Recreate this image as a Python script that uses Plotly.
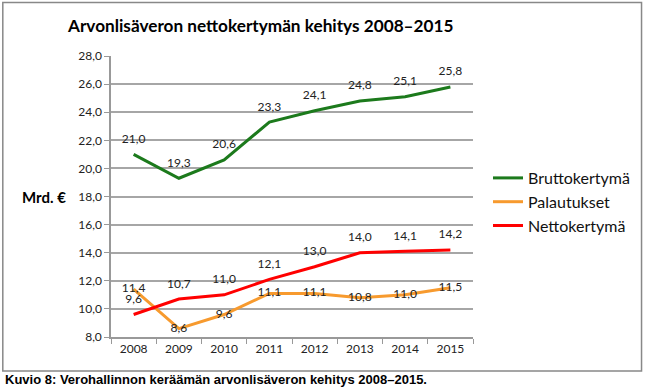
import plotly.graph_objects as go

years = ["2008", "2009", "2010", "2011", "2012", "2013", "2014", "2015"]
brutto = [21.0, 19.3, 20.6, 23.3, 24.1, 24.8, 25.1, 25.8]
palautukset = [11.4, 8.6, 9.6, 11.1, 11.1, 10.8, 11.0, 11.5]
netto = [9.6, 10.7, 11.0, 12.1, 13.0, 14.0, 14.1, 14.2]
y_ticks = [8, 10, 12, 14, 16, 18, 20, 22, 24, 26, 28]

FONT = "Lato"
W, H = 646, 389
L, R, T, B = 111, 474, 56, 337

def px(x):
    return (x - L) / (R - L)

def py(y):
    return (B - y) / (B - T)

fig = go.Figure()
series = [
    ("Bruttokertymä", brutto, "#1c7a1c", "top center", 12),
    ("Palautukset", palautukset, "#f79a2e", "middle center", 1),
    ("Nettokertymä", netto, "#ff0000", "top center", 12),
]
for name, vals, col, pos, msize in series:
    fig.add_trace(go.Scatter(
        x=years, y=vals, name=name, mode="lines+markers+text",
        line=dict(color=col, width=3),
        marker=dict(size=msize, color="rgba(0,0,0,0)"),
        texttemplate="%{y:.1f}", textposition=pos,
        textfont=dict(family=FONT, size=12, color="#222"),
        cliponaxis=False,
    ))

fig.update_layout(
    width=W, height=H,
    margin=dict(l=L, r=W - R, t=T, b=H - B),
    paper_bgcolor="white", plot_bgcolor="white",
    separators=",.",
    showlegend=True,
    legend=dict(x=px(488), y=py(161), xanchor="left", yanchor="top",
                font=dict(family=FONT, size=16, color="#111"),
                tracegroupgap=6, itemwidth=30, bgcolor="rgba(0,0,0,0)"),
    font=dict(family=FONT, color="#222"),
)
fig.update_xaxes(
    type="category", range=[-0.5, 7.5],
    showline=True, linecolor="#999", linewidth=1.5,
    ticks="outside", tickson="boundaries", ticklen=5, tickcolor="#999",
    tickfont=dict(family=FONT, size=12, color="#222"),
    showgrid=False,
)
fig.update_yaxes(
    range=[8, 28], tickvals=y_ticks, tickformat=".1f",
    showline=True, linecolor="#999", linewidth=1.5,
    ticks="outside", ticklen=5, tickcolor="#999",
    gridcolor="#a6a6a6", gridwidth=1.5,
    tickfont=dict(family=FONT, size=12, color="#222"),
    zeroline=False,
)

fig.add_shape(type="rect", xref="paper", yref="paper",
              x0=px(2.5), x1=px(643), y0=py(371), y1=py(2.5),
              line=dict(color="#888", width=1.5), layer="below")

fig.add_annotation(text="<b>Arvonlisäveron nettokertymän kehitys 2008–2015</b>",
                   xref="paper", yref="paper", x=px(260), y=py(25),
                   xanchor="center", yanchor="middle", showarrow=False,
                   font=dict(family=FONT, size=17.2, color="#000"))
fig.add_annotation(text="<b>Mrd. €</b>",
                   xref="paper", yref="paper", x=px(44), y=py(197),
                   xanchor="center", yanchor="middle", showarrow=False,
                   font=dict(family=FONT, size=15, color="#000"))
fig.add_annotation(text="<b>Kuvio 8: Verohallinnon keräämän arvonlisäveron kehitys 2008–2015.</b>",
                   xref="paper", yref="paper", x=px(3), y=py(379),
                   xanchor="left", yanchor="middle", showarrow=False,
                   font=dict(family="Liberation Sans", size=13, color="#000"))

fig.write_html("out.html", config={"displayModeBar": False},
               post_script="document.body.style.margin='0';document.body.style.overflow='hidden';")
